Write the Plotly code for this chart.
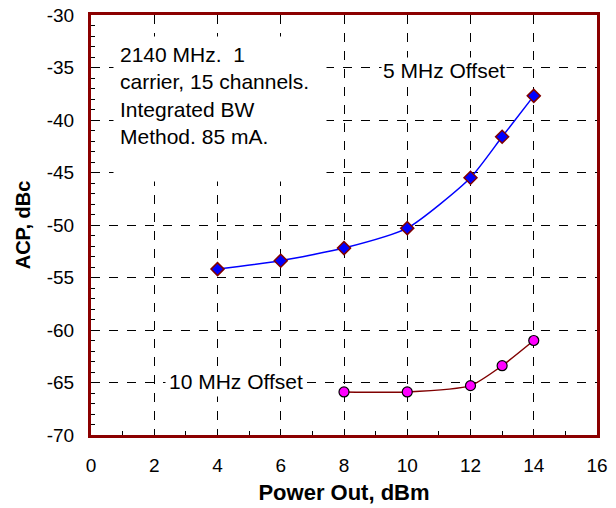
import plotly.graph_objects as go

# ACP measurements vs output power
pout_5mhz = [4, 6, 8, 10, 12, 13, 14]
acp_5mhz = [-54.2, -53.4, -52.2, -50.3, -45.5, -41.6, -37.7]

pout_10mhz = [8, 10, 12, 13, 14]
acp_10mhz = [-65.9, -65.9, -65.3, -63.4, -61.0]

x_ticks = [0, 2, 4, 6, 8, 10, 12, 14, 16]
y_ticks = [-70, -65, -60, -55, -50, -45, -40, -35, -30]

FONT = "Liberation Sans, Arial, sans-serif"
BORDER = "#8B0000"

fig = go.Figure()

fig.add_trace(go.Scatter(
    x=pout_5mhz, y=acp_5mhz, mode="lines+markers",
    line=dict(color="#0000FF", width=1.5, shape="spline", smoothing=0.6),
    marker=dict(symbol="diamond", size=10, color="#0000FF",
                line=dict(color="#800000", width=1.5)),
    showlegend=False,
))

fig.add_trace(go.Scatter(
    x=pout_10mhz, y=acp_10mhz, mode="lines+markers",
    line=dict(color="#800000", width=1.5, shape="spline", smoothing=0.6),
    marker=dict(symbol="circle", size=10, color="#FF00FF",
                line=dict(color="#000000", width=1.2)),
    showlegend=False,
))

axis_common = dict(
    showline=True, mirror=True, linecolor=BORDER, linewidth=3,
    showgrid=True, gridcolor="#000000", gridwidth=1, griddash="dash",
    zeroline=False, ticks="inside", ticklen=6, tickcolor="#000000",
    tickfont=dict(family=FONT, size=19, color="#000000"),
    automargin=False,
)

fig.update_xaxes(
    range=[0, 16], tickvals=x_ticks, ticktext=[str(v) for v in x_ticks],
    minor=dict(dtick=1, ticks="inside", ticklen=4, tickcolor="#000000", showgrid=False),
    ticklabelstandoff=11,
    title=dict(text="<b>Power Out, dBm</b>", font=dict(family=FONT, size=22, color="#000000"), standoff=10),
    **axis_common,
)
fig.update_yaxes(
    range=[-70, -30], tickvals=y_ticks, ticktext=[str(v) for v in y_ticks],
    minor=dict(dtick=1, ticks="inside", ticklen=4, tickcolor="#000000", showgrid=False),
    ticklabelstandoff=10,
    title=dict(text="<b>ACP, dBc</b>", font=dict(family=FONT, size=20, color="#000000"), standoff=11),
    **axis_common,
)

# Test-condition note, on a white box that hides the grid behind it
fig.add_annotation(
    x=0.0435, y=0.95, xref="paper", yref="paper", xanchor="left", yanchor="top",
    text="2140 MHz.  1<br>carrier, 15 channels.<br>Integrated BW<br>Method. 85 mA.",
    showarrow=False, align="left", valign="top", width=200, height=132,
    font=dict(family=FONT, size=21, color="#000000"),
    bgcolor="#FFFFFF", borderpad=6,
)
fig.add_annotation(
    x=11.16, y=-35.3, xref="x", yref="y", text="5 MHz Offset", showarrow=False,
    font=dict(family=FONT, size=21, color="#000000"), bgcolor="#FFFFFF",
)
fig.add_annotation(
    x=4.58, y=-64.9, xref="x", yref="y", text="10 MHz Offset", showarrow=False,
    font=dict(family=FONT, size=21, color="#000000"), bgcolor="#FFFFFF", borderpad=3,
)

fig.update_layout(
    width=616, height=508,
    margin=dict(l=91, r=19, t=15, b=73),
    paper_bgcolor="#FFFFFF", plot_bgcolor="#FFFFFF",
    font=dict(family=FONT, color="#000000"),
)

fig.write_html("out.html")
